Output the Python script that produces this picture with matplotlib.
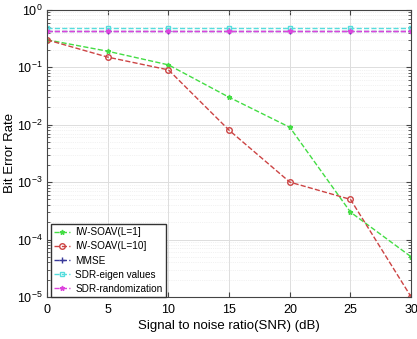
import matplotlib
matplotlib.use("Agg")
import matplotlib.pyplot as plt
import numpy as np

plt.rcParams['font.family'] = ['Liberation Sans', 'DejaVu Sans']

snr = [0, 5, 10, 15, 20, 25, 30]
ber_soav1 = [0.3, 0.19, 0.11, 0.030, 0.009, 3e-4, 5e-5]
ber_soav10 = [0.3, 0.15, 0.09, 0.008, 0.001, 5e-4, 1e-5]
ber_mmse = [0.42, 0.42, 0.42, 0.42, 0.42, 0.42, 0.42]
ber_sdr_eig = [0.49, 0.49, 0.49, 0.49, 0.49, 0.49, 0.49]
ber_sdr_rand = [0.43, 0.43, 0.43, 0.43, 0.43, 0.43, 0.43]

fig = plt.figure(figsize=(4.17, 3.39), dpi=100)
ax = fig.add_axes([0.113, 0.124, 0.873, 0.847])

ax.semilogy(snr, ber_soav1, '--*', color='#44dd44', lw=1, ms=3.5, label='IW-SOAV(L=1]')
ax.semilogy(snr, ber_soav10, '--o', color='#cc4444', lw=1, ms=4, mfc='none', label='IW-SOAV(L=10]')
ax.semilogy(snr, ber_mmse, '--+', color='#3a3a9a', lw=1, ms=4.5, label='MMSE')
ax.semilogy(snr, ber_sdr_eig, '--s', color='#55dddd', lw=1, ms=3.5, mfc='none', label='SDR-eigen values')
ax.semilogy(snr, ber_sdr_rand, '--*', color='#dd44dd', lw=1, ms=3.5, label='SDR-randomization')

ax.set_xlim(0, 30)
ax.set_ylim(1e-5, 1)
ax.set_xticks([0, 5, 10, 15, 20, 25, 30])
ax.grid(True, which='major', color='#dddddd', lw=0.7)
ax.grid(True, which='minor', color='#e6e6e6', lw=0.5, ls=':')
ax.tick_params(labelsize=9, direction='in', which='both', top=True, right=True, color='#444444')
ax.tick_params(axis='x', pad=5)
ax.set_xlabel('Signal to noise ratio(SNR) (dB)', fontsize=9.5, labelpad=3)
ax.set_ylabel('Bit Error Rate', fontsize=9.5)
ax.yaxis.set_label_coords(-0.085, 0.5)
for s in ax.spines.values():
    s.set_color('#444444')
leg = ax.legend(loc='lower left', bbox_to_anchor=(0.012, 0.0), fontsize=7.2, fancybox=False,
                framealpha=1, edgecolor='#333333', borderpad=0.3, labelspacing=0.42,
                handlelength=1.6, handletextpad=0.5, borderaxespad=0.0)
fig.savefig('out.png', dpi=100)
